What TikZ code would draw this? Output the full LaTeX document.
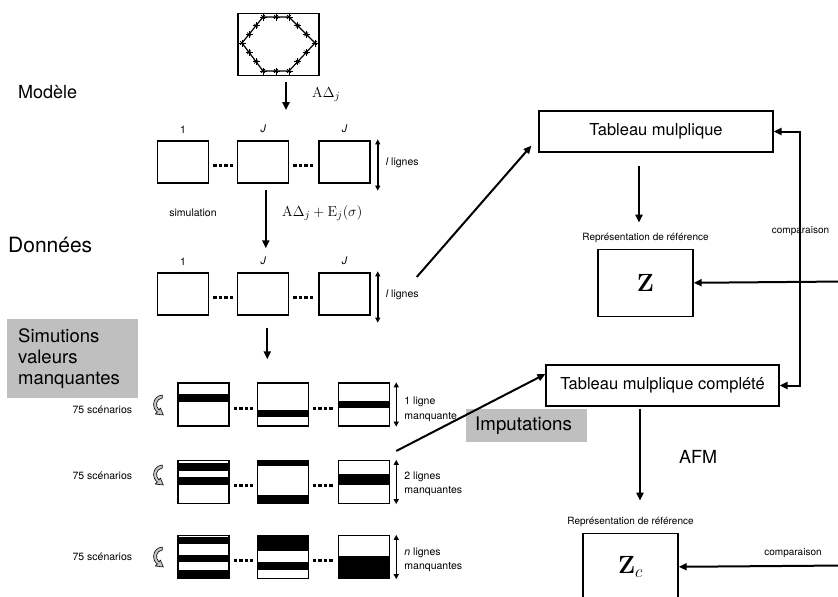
\documentclass[tikz,border=0pt]{standalone}
\usepackage[no-math]{fontspec}
\setmainfont{TeX Gyre Heros}
\usetikzlibrary{positioning,calc,arrows.meta}
\tikzset{
  bigfont/.style={font=\fontsize{18}{21}\selectfont},
  datafont/.style={font=\fontsize{21}{24}\selectfont},
  tabfont/.style={font=\fontsize{16.5}{20}\selectfont},
  smallfont/.style={font=\fontsize{10.5}{14.5}\selectfont},
  tinyfont/.style={font=\fontsize{10}{12}\selectfont},
  mathfont/.style={font=\fontsize{15}{18}\selectfont},
  matbox/.style={draw, line width=1.3pt, minimum width=51pt, minimum height=42pt, inner sep=0pt},
  mainbox/.style={draw, line width=1.2pt, inner sep=0pt, tabfont},
  refbox/.style={draw, line width=1.4pt, minimum width=95pt, minimum height=67pt, inner sep=0pt, font=\fontsize{23}{26}\selectfont},
  greybox/.style={fill=gray!50, inner sep=0pt},
  collabel/.style={smallfont, inner sep=0pt},
  figarrow/.style={-{Triangle[length=8pt,width=7pt]}, line width=2pt},
  dblarrow/.style={{Triangle[length=8pt,width=7pt]}-{Triangle[length=8pt,width=7pt]}, line width=2pt},
  sizearrow/.style={{Triangle[length=5pt,width=5pt]}-{Triangle[length=5pt,width=5pt]}, line width=1.5pt},
  dotrow/.style={line width=3pt, dash pattern=on 3.5pt off 2pt},
  starmark/.pic={
    \draw[line width=0.9pt] (-3.5,0) -- (3.5,0) (0,-3.5) -- (0,3.5);
    \draw[line width=0.8pt] (-1.8,-1.8) -- (1.8,1.8) (-1.8,1.8) -- (1.8,-1.8);
  },
  turnarrow/.pic={
    \draw[fill=gray!45, line width=0.6pt, line join=round]
      (5,-10) .. controls (-5,-9) and (-6,3) .. (0,7) -- (-2,9) -- (6,10) -- (3,3)
      -- (1.6,5) .. controls (-2.5,1) and (-1.5,-6) .. (5,-7) -- cycle;
  },
}
\newcommand{\mbar}[3]{\fill ($(#1.north west)+(0,#2)$) rectangle ($(#1.north east)+(0,#3)$);}

\begin{document}
\begin{tikzpicture}[x=1pt, y=-1pt]
\useasboundingbox (0,0) rectangle (838,597);

% Model
\node[draw, line width=1.3pt, minimum width=81pt, minimum height=62pt, inner sep=0pt] (model) at (278.5,44.5) {};
\coordinate (h1) at ($(model.center)+(-15.5,-27.5)$);
\coordinate (h2) at ($(model.center)+(10.5,-27.5)$);
\coordinate (h3) at ($(model.center)+(36.5,-1.5)$);
\coordinate (h4) at ($(model.center)+(10.5,26.5)$);
\coordinate (h5) at ($(model.center)+(-15.5,26.5)$);
\coordinate (h6) at ($(model.center)+(-36.5,-1.5)$);
\draw[line width=1.2pt] (h1) -- (h2) -- (h3) -- (h4) -- (h5) -- (h6) -- cycle;
\foreach \i/\j/\m in {1/2/2,2/3/3,3/4/3,4/5/2,5/6/3,6/1/3}
  \foreach \k in {1,...,\m}
    \pic at ($(h\i)!{(\k-1)/\m}!(h\j)$) {starmark};
\node[bigfont, anchor=west, inner sep=0pt] (lmodel) at (18,92) {Modèle};
\draw[figarrow] ($(model.south)+(7.5,6)$) -- ($(model.south)+(7.5,34)$);
\node[mathfont, anchor=west, inner sep=0pt] (mlab) at (312,95) {$\mathrm{A}\Delta_j$};

% Full tables
\foreach \row/\y in {1/162,2/294}{
  \node[matbox] (b\row1) at (183,\y) {};
  \node[matbox, right=28pt of b\row1] (b\row2) {};
  \node[matbox, right=29pt of b\row2] (b\row3) {};
  \node[collabel, above=7pt of b\row1] {1};
  \node[collabel, above=7pt of b\row2] {\itshape J};
  \node[collabel, above=7pt of b\row3] {\itshape J};
  \draw[dotrow] ($(b\row1.east)+(4,3)$) -- ($(b\row2.west)+(-4,3)$);
  \draw[dotrow] ($(b\row2.east)+(4,3)$) -- ($(b\row3.west)+(-4,3)$);
  \draw[sizearrow] ($(b\row3.north east)+(7,-1)$) -- ($(b\row3.south east)+(7,7)$);
  \node[smallfont, anchor=west, inner sep=0pt] at ($(b\row3.east)+(15,1)$) {{\itshape l} lignes};
}
\draw[figarrow] ($(b12.south)+(2.5,6)$) -- ($(b22.north)+(2.5,-24)$);
\node[smallfont, inner sep=0pt] (simlab) at (193,213) {simulation};
\node[mathfont, anchor=west, inner sep=0pt] (slab) at (282,213) {$\mathrm{A}\Delta_j+\mathrm{E}_j(\sigma)$};
\node[datafont, anchor=west, inner sep=0pt] (ldata) at (8,245) {Données};

% Missing values
\node[greybox, font=\fontsize{18.5}{21}\selectfont, anchor=north west, minimum height=79pt,
  text width=109pt, inner xsep=11pt, align=left] (simvm) at (7,319) {Simutions\\valeurs\\manquantes};
\foreach \row/\y/\dy/\sy in {3/404.5/0.5/5.5,4/482/-7/-6,5/557/0/0}{
  \node[matbox, minimum height=43pt] (b\row1) at (203.5,\y) {};
  \node[matbox, minimum height=43pt, right=27pt of b\row1] (b\row2) {};
  \node[matbox, minimum height=43pt, right=29pt of b\row2] (b\row3) {};
  \draw[dotrow] ($(b\row1.east)+(4,3.5)$) -- ($(b\row2.west)+(-4,3.5)$);
  \draw[dotrow] ($(b\row2.east)+(4,3.5)$) -- ($(b\row3.west)+(-4,3.5)$);
  \draw[sizearrow] ($(b\row3.north east)+(6,0)$) -- ($(b\row3.south east)+(6,0)$);
  \pic at ($(b\row1.west)+(-20,\dy)$) {turnarrow};
  \node[smallfont, anchor=east, inner sep=0pt] at ($(b\row1.west)+(-45,\sy)$) {75 scénarios};
}
\draw[figarrow] ($(b22.south)+(4,12)$) -- ($(b32.north)+(-15.5,-23)$);
\mbar{b31}{12}{20} \mbar{b32}{28}{35} \mbar{b33}{19}{26}
\mbar{b41}{3}{11} \mbar{b41}{17}{25} \mbar{b42}{0}{6} \mbar{b42}{35}{43} \mbar{b43}{14}{25}
\mbar{b51}{2}{9} \mbar{b51}{20}{27} \mbar{b51}{35}{43} \mbar{b52}{0}{16} \mbar{b52}{27}{35} \mbar{b53}{21}{43}
\node[smallfont, anchor=west, align=left, inner sep=0pt] at ($(b33.east)+(14,5)$) {1 ligne\\manquante};
\node[smallfont, anchor=west, align=left, inner sep=0pt] at ($(b43.east)+(14,2)$) {2 lignes\\manquantes};
\node[smallfont, anchor=west, align=left, inner sep=0pt] at ($(b53.east)+(14,3)$) {{\itshape n} lignes\\manquantes};

% Reference side
\node[mainbox, minimum width=234pt, minimum height=41pt] (tab) at (656,131.5) {Tableau mulplique};
\node[refbox, below=96pt of tab, xshift=-10.5pt] (zref) {$\mathbf{Z}$};
\node[tinyfont, inner sep=0pt, above=6pt of zref] (rep1) {Représentation de référence};
\draw[figarrow] ($(tab.south)+(-17,13)$) -- ($(zref.north)+(-6.5,-26)$);
\draw[figarrow] ($(b23.east)+(46,-17)$) -- ($(tab.south west)+(-7,-7)$);

\node[mainbox, minimum width=233pt, minimum height=41pt] (tabc) at (662.5,385.5) {Tableau mulplique complété};
\coordinate (comp) at (800,258);
\draw[dblarrow] (tab.east) -| (comp) |- (tabc.east);
\node[tinyfont, inner sep=0pt] (cmp1) at (800.5,231) {comparaison};
\coordinate (zin) at (845,281.5);
\draw[figarrow] (zin) -- (zref.east);

\node[greybox, font=\fontsize{18.7}{22}\selectfont, anchor=west, minimum height=33pt,
  text width=103pt, inner xsep=9pt, align=left] (imp) at (466,425.5) {Imputations};
\draw[figarrow] ($(b43.east)+(6,-31)$) -- ($(tabc.west)+(0,-11.5)$);

\node[refbox, below=126pt of tabc, xshift=-32pt] (zcref) {$\mathbf{Z}_c$};
\node[tinyfont, inner sep=0pt, above=6pt of zcref] (rep2) {Représentation de référence};
\draw[figarrow] ($(tabc.south)+(-22.5,2)$) -- ($(zcref.north)+(9.5,-32)$);
\node[bigfont, inner sep=0pt] (afm) at (698,457) {AFM};
\coordinate (zcin) at (845,565.5);
\draw[figarrow] (zcin) -- (zcref.east);
\node[tinyfont, inner sep=0pt] (cmp2) at (793,553) {comparaison};
\end{tikzpicture}
\end{document}
